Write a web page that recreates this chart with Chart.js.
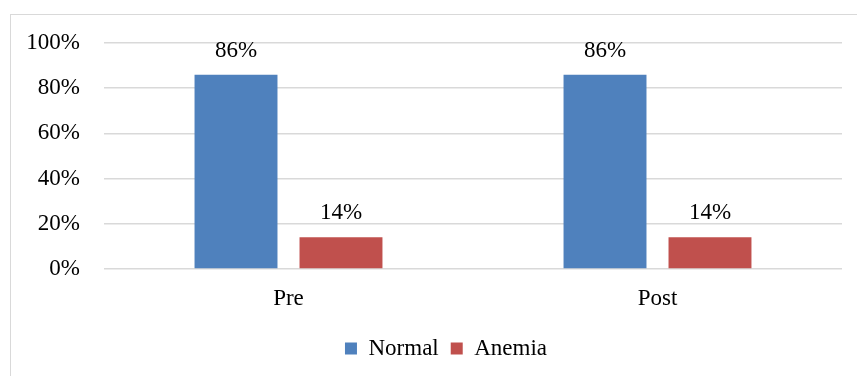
<!DOCTYPE html>
<html>
<head>
<meta charset="utf-8">
<script src="https://cdn.jsdelivr.net/npm/chart.js@4.4.1/dist/chart.umd.min.js"></script>
<style>
  html, body { margin: 0; padding: 0; background: #fff; overflow: hidden; }
  #wrap { position: relative; width: 857px; height: 376px; }
  #frame { position: absolute; left: 10px; top: 14px; width: 900px; height: 420px; border: 1px solid #d9d9d9; box-sizing: border-box; }
  canvas { position: absolute; left: 0; top: 0; }
</style>
</head>
<body>
<div id="wrap">
  <div id="frame"></div>
  <canvas id="c" width="857" height="376"></canvas>
</div>
<script>
// Share of patients by hemoglobin status, before and after
const categories = ['Pre', 'Post'];
const normalValues = [86, 86];
const anemiaValues = [14, 14];
const yTicks = [0, 20, 40, 60, 80, 100];

const FONT = "'Liberation Serif', 'Times New Roman', serif";
const SIZE = 23;

// Percentage label above each bar
const barValueLabels = {
  id: 'barValueLabels',
  afterDatasetsDraw(chart) {
    const ctx = chart.ctx;
    ctx.save();
    ctx.font = SIZE + 'px ' + FONT;
    ctx.fillStyle = '#000';
    ctx.textAlign = 'center';
    ctx.textBaseline = 'middle';
    chart.data.datasets.forEach((ds, i) => {
      chart.getDatasetMeta(i).data.forEach((bar, j) => {
        ctx.fillText(ds.data[j] + '%', bar.x, bar.y - 24);
      });
    });
    ctx.restore();
  }
};

// Center the legend under the frame rather than the whole canvas
const legendShift = {
  id: 'legendShift',
  afterLayout(chart) {
    if (chart.legend) {
      chart.legend.left += 25;
      chart.legend.right += 25;
    }
  }
};

new Chart(document.getElementById('c'), {
  type: 'bar',
  data: {
    labels: categories,
    datasets: [
      { label: 'Normal', data: normalValues, backgroundColor: '#4F81BD' },
      { label: 'Anemia', data: anemiaValues, backgroundColor: '#C0504D' }
    ]
  },
  options: {
    responsive: false,
    animation: false,
    devicePixelRatio: 1,
    categoryPercentage: 0.569,
    barPercentage: 0.79,
    layout: { padding: { top: 43, right: 15, bottom: 6, left: 0 } },
    plugins: {
      legend: {
        position: 'bottom',
        labels: {
          font: { family: FONT, size: SIZE },
          color: '#000',
          boxWidth: 12,
          boxHeight: 12,
          padding: 12
        }
      },
      tooltip: { enabled: false }
    },
    scales: {
      x: {
        grid: { display: false },
        border: { display: false },
        ticks: { font: { family: FONT, size: SIZE }, color: '#000', padding: 8 },
        afterFit(s) { s.height = 56; }
      },
      y: {
        min: 0,
        max: 100,
        afterBuildTicks(s) { s.ticks = yTicks.map(v => ({ value: v })); },
        grid: { color: '#d9d9d9', lineWidth: 1.5, drawTicks: false },
        border: { display: false },
        ticks: {
          font: { family: FONT, size: SIZE },
          color: '#000',
          padding: 24,
          callback: v => v + '%'
        },
        afterFit(s) { s.width = 104; }
      }
    }
  },
  plugins: [barValueLabels, legendShift]
});
</script>
</body>
</html>
